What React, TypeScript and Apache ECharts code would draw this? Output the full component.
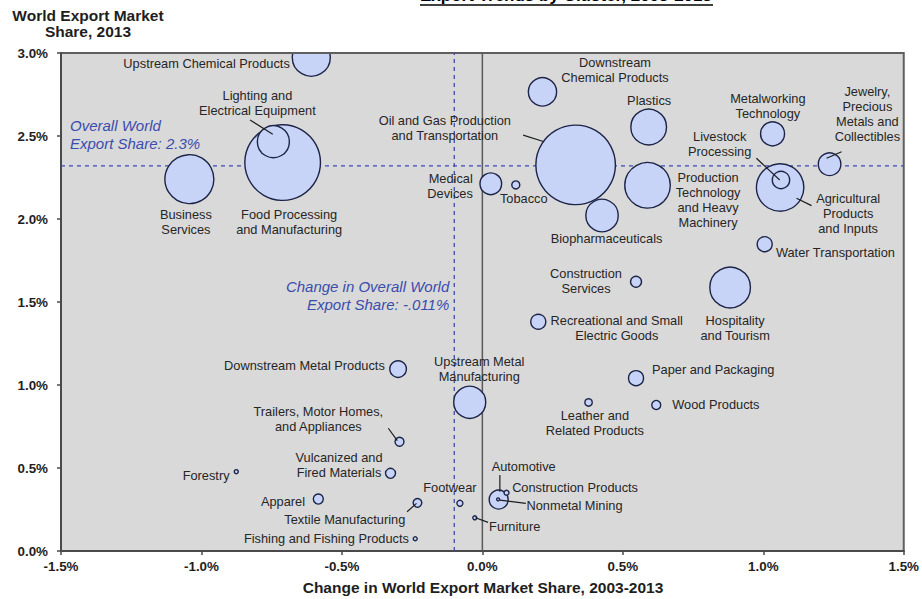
import React, { useEffect, useRef } from "react";
import * as echarts from "echarts";

// ---------- data ----------
const clusters = [
  "Upstream Chemical Products",
  "Lighting and Electrical Equipment",
  "Food Processing and Manufacturing",
  "Business Services",
  "Medical Devices",
  "Oil and Gas Production and Transportation",
  "Downstream Chemical Products",
  "Plastics",
  "Tobacco",
  "Production Technology and Heavy Machinery",
  "Biopharmaceuticals",
  "Metalworking Technology",
  "Livestock Processing",
  "Agricultural Products and Inputs",
  "Jewelry, Precious Metals and Collectibles",
  "Water Transportation",
  "Construction Services",
  "Hospitality and Tourism",
  "Recreational and Small Electric Goods",
  "Paper and Packaging",
  "Wood Products",
  "Leather and Related Products",
  "Upstream Metal Manufacturing",
  "Downstream Metal Products",
  "Trailers, Motor Homes, and Appliances",
  "Vulcanized and Fired Materials",
  "Forestry",
  "Apparel",
  "Textile Manufacturing",
  "Fishing and Fishing Products",
  "Footwear",
  "Furniture",
  "Automotive",
  "Nonmetal Mining",
  "Construction Products",
];

// change in world export market share 2003-2013 (%)
const shareChange = [
  -0.609, -0.744, -0.711, -1.043, 0.03, 0.332, 0.214, 0.592, 0.119, 0.588,
  0.426, 1.033, 1.063, 1.06, 1.236, 1.005, 0.547, 0.882, 0.199, 0.547,
  0.619, 0.378, -0.045, -0.3, -0.295, -0.327, -0.876, -0.584, -0.231, -0.239,
  -0.08, -0.027, 0.058, 0.056, 0.086,
];

// world export market share 2013 (%)
const exportShare = [
  2.975, 2.466, 2.34, 2.24, 2.212, 2.326, 2.766, 2.554, 2.205, 2.203,
  2.021, 2.513, 2.235, 2.19, 2.33, 1.848, 1.622, 1.587, 1.381, 1.041,
  0.88, 0.895, 0.896, 1.096, 0.658, 0.468, 0.478, 0.313, 0.29, 0.074,
  0.287, 0.2, 0.31, 0.311, 0.351,
];

// bubble size (relative export value)
const exportValue = [
  58, 41, 229, 96, 18.7, 253, 32, 51, 2.6, 83,
  42, 23, 12, 90, 20.4, 9, 4.8, 66, 9, 9,
  3.2, 2.2, 41, 11, 3.2, 4, 0.64, 4, 3, 0.64,
  1.44, 0.64, 14.4, 0.36, 1,
];

const overallShare = 2.32;
const overallChange = -0.1;
const xTickValues = [-1.5, -1.0, -0.5, 0.0, 0.5, 1.0, 1.5];
const yTickValues = [0.0, 0.5, 1.0, 1.5, 2.0, 2.5, 3.0];

// ---------- label layout (pixel offsets from bubble centre) ----------
type Lay = { t: string; dx: number; dy: number; a: "left" | "right" | "center"; l?: number[] };
const labelLayout: Lay[] = [
  { t: "Upstream Chemical Products", dx: -21.5, dy: 6, a: "right" },
  { t: "Lighting and\nElectrical Equipment", dx: -16, dy: -39, a: "center", l: [-23.3, -21.7, -0.6, -7.4] },
  { t: "Food Processing\nand Manufacturing", dx: 6.5, dy: 59, a: "center" },
  { t: "Business\nServices", dx: -3.5, dy: 42.5, a: "center" },
  { t: "Medical\nDevices", dx: -18, dy: 2, a: "right" },
  { t: "Oil and Gas Production\nand Transportation", dx: -130.8, dy: -36.6, a: "center", l: [-52.5, -29.8, -31.5, -23.1] },
  { t: "Downstream\nChemical Products", dx: 72.5, dy: -21.5, a: "center" },
  { t: "Plastics", dx: 0.5, dy: -26.3, a: "center" },
  { t: "Tobacco", dx: 8, dy: 13.3, a: "center" },
  { t: "Production\nTechnology\nand Heavy\nMachinery", dx: 60.5, dy: 14.2, a: "center" },
  { t: "Biopharmaceuticals", dx: 4.5, dy: 22.8, a: "center" },
  { t: "Metalworking\nTechnology", dx: -4.7, dy: -28.3, a: "center" },
  { t: "Livestock\nProcessing", dx: -61.3, dy: -36.2, a: "center", l: [-24.6, -21.7, -1.3, 0] },
  { t: "Agricultural\nProducts\nand Inputs", dx: 68, dy: 26, a: "center", l: [16.4, 10.8, 31.4, 18.2] },
  { t: "Jewelry,\nPrecious\nMetals and\nCollectibles", dx: 37.8, dy: -50, a: "center", l: [-3, -5.9, 12, -12.5] },
  { t: "Water Transportation", dx: 11.2, dy: 8.5, a: "left" },
  { t: "Construction\nServices", dx: -50, dy: -0.7, a: "center" },
  { t: "Hospitality\nand Tourism", dx: 5, dy: 40, a: "center" },
  { t: "Recreational and Small\nElectric Goods", dx: 78.5, dy: 6, a: "center" },
  { t: "Paper and Packaging", dx: 16, dy: -9, a: "left" },
  { t: "Wood Products", dx: 16, dy: 0, a: "left" },
  { t: "Leather and\nRelated Products", dx: 6.3, dy: 20.5, a: "center" },
  { t: "Upstream Metal\nManufacturing", dx: 9.5, dy: -33.5, a: "center" },
  { t: "Downstream Metal Products", dx: -13.3, dy: -4, a: "right" },
  { t: "Trailers, Motor Homes,\nand Appliances", dx: -81.2, dy: -22.6, a: "center", l: [-11.2, -13.5, -2.2, -1.1] },
  { t: "Vulcanized and\nFired Materials", dx: -51.5, dy: -8.8, a: "center" },
  { t: "Forestry", dx: -6.7, dy: 4.3, a: "right" },
  { t: "Apparel", dx: -13.3, dy: 2.7, a: "right" },
  { t: "Textile Manufacturing", dx: -72.7, dy: 16.5, a: "center", l: [-10.4, 8.9, -1, 0.5] },
  { t: "Fishing and Fishing Products", dx: -6.3, dy: -0.4, a: "right" },
  { t: "Footwear", dx: -10, dy: -16, a: "center" },
  { t: "Furniture", dx: 14.3, dy: 8.3, a: "left", l: [0.7, 0, 13.3, 4.6] },
  { t: "Automotive", dx: 25, dy: -32.8, a: "center", l: [1.2, -24.5, 1.2, -7.8] },
  { t: "Nonmetal Mining", dx: 28.4, dy: 6.4, a: "left", l: [1.7, 0.7, 27.7, 4] },
  { t: "Construction Products", dx: 5.6, dy: -5, a: "left" },
];

const FONT = '"Liberation Sans", Arial, Helvetica, sans-serif';
const INK = "#1e1e1e";
const BLUE = "#3b4cae";

export default function App() {
  const ref = useRef<HTMLDivElement>(null);

  useEffect(() => {
    if (!ref.current) return;
    const chart = echarts.init(ref.current, null, { renderer: "svg" });

    const order = clusters
      .map((_, i) => i)
      .sort((a, b) => exportValue[b] - exportValue[a]);

    const bubbleData = order.map((i) => ({
      name: clusters[i],
      value: [shareChange[i], exportShare[i], exportValue[i]],
    }));

    const labelData = clusters.map((_, i) => [shareChange[i], exportShare[i], i]);

    const yMin = yTickValues[0];
    const yMax = yTickValues[yTickValues.length - 1];

    const option: any = {
      animation: false,
      backgroundColor: "#ffffff",
      grid: {
        left: 61,
        right: 18,
        top: 53,
        bottom: 48,
        show: true,
        backgroundColor: "#d9d9d9",
        borderColor: "#5f5f5f",
        borderWidth: 2,
      },
      xAxis: {
        type: "value",
        min: xTickValues[0],
        max: xTickValues[xTickValues.length - 1],
        interval: 0.5,
        splitLine: { show: false },
        axisLine: { show: true, onZero: false, lineStyle: { color: "#4a4a4a", width: 2 } },
        axisTick: { show: true, length: 4, lineStyle: { color: "#4a4a4a", width: 1.5 } },
        axisLabel: {
          margin: 9,
          fontFamily: FONT,
          fontWeight: "bold",
          fontSize: 13.4,
          color: INK,
          formatter: (v: number) => v.toFixed(1) + "%",
        },
      },
      yAxis: {
        type: "value",
        min: yMin,
        max: yMax,
        interval: 0.5,
        splitLine: { show: false },
        axisLine: { show: true, onZero: false, lineStyle: { color: "#4a4a4a", width: 2 } },
        axisTick: { show: true, length: 4, lineStyle: { color: "#4a4a4a", width: 1.5 } },
        axisLabel: {
          margin: 13,
          fontFamily: FONT,
          fontWeight: "bold",
          fontSize: 13.4,
          color: INK,
          formatter: (v: number) => v.toFixed(1) + "%",
        },
      },
      series: [
        {
          type: "line",
          z: 1,
          silent: true,
          symbol: "none",
          data: [
            [0, yMin],
            [0, yMax],
          ],
          lineStyle: { color: "#5a5a5a", width: 1.5 },
        },
        {
          type: "line",
          z: 1,
          silent: true,
          symbol: "none",
          data: [
            [overallChange, yMin],
            [overallChange, yMax],
          ],
          lineStyle: { color: BLUE, width: 1.3, type: [4, 4] },
        },
        {
          type: "line",
          z: 1,
          silent: true,
          symbol: "none",
          data: [
            [xTickValues[0], overallShare],
            [xTickValues[xTickValues.length - 1], overallShare],
          ],
          lineStyle: { color: BLUE, width: 1.3, type: [4, 4] },
        },
        {
          type: "scatter",
          z: 2,
          silent: true,
          data: bubbleData,
          symbolSize: (val: number[]) => 5 * Math.sqrt(val[2]),
          itemStyle: { color: "#c7d4f7", borderColor: "#1c2448", borderWidth: 1.4, opacity: 1 },
        },
        {
          type: "custom",
          z: 3,
          silent: true,
          data: labelData,
          renderItem: (params: any, api: any) => {
            const i = api.value(2) as number;
            const p = api.coord([api.value(0), api.value(1)]);
            const L = labelLayout[i];
            const children: any[] = [];
            if (L.l) {
              children.push({
                type: "line",
                shape: { x1: p[0] + L.l[0], y1: p[1] + L.l[1], x2: p[0] + L.l[2], y2: p[1] + L.l[3] },
                style: { stroke: INK, lineWidth: 1.2 },
              });
            }
            children.push({
              type: "text",
              x: p[0] + L.dx,
              y: p[1] + L.dy,
              style: {
                text: L.t,
                font: `12.8px ${FONT}`,
                fill: "#262626",
                align: L.a,
                verticalAlign: "middle",
                lineHeight: 15,
              },
            });
            return { type: "group", children };
          },
        },
      ],
      graphic: [
        // mask above plot area (bubble overflow)
        { type: "rect", z: 100, shape: { x: 270, y: 20, width: 80, height: 32.2 }, style: { fill: "#ffffff" } },
        { type: "line", z: 101, shape: { x1: 268, y1: 53, x2: 352, y2: 53 }, style: { stroke: "#5f5f5f", lineWidth: 2 } },
        // chart title (partly off the page)
        {
          type: "text",
          z: 102,
          x: 566,
          y: 3.5,
          style: {
            text: "Export Trends by Cluster, 2003-2013",
            font: `bold 17px ${FONT}`,
            fill: "#000",
            align: "center",
            verticalAlign: "bottom",
          },
        },
        { type: "line", z: 102, shape: { x1: 420, y1: 5, x2: 713, y2: 5 }, style: { stroke: "#000", lineWidth: 1.6 } },
        // y axis title
        {
          type: "text",
          z: 102,
          x: 88,
          y: 23,
          style: {
            text: "World Export Market\nShare, 2013",
            font: `bold 15.5px ${FONT}`,
            fill: INK,
            align: "center",
            verticalAlign: "middle",
            lineHeight: 16,
          },
        },
        // x axis title
        {
          type: "text",
          z: 102,
          x: 483,
          y: 587,
          style: {
            text: "Change in World Export Market Share, 2003-2013",
            font: `bold 15.5px ${FONT}`,
            fill: INK,
            align: "center",
            verticalAlign: "middle",
          },
        },
        // annotations
        {
          type: "text",
          z: 102,
          x: 70,
          y: 134.3,
          style: {
            text: "Overall World\nExport Share: 2.3%",
            font: `italic 15px ${FONT}`,
            fill: BLUE,
            align: "left",
            verticalAlign: "middle",
            lineHeight: 18.5,
          },
        },
        {
          type: "text",
          z: 102,
          x: 449.3,
          y: 295,
          style: {
            text: "Change in Overall World\nExport Share: -.011%",
            font: `italic 15px ${FONT}`,
            fill: BLUE,
            align: "right",
            verticalAlign: "middle",
            lineHeight: 18,
          },
        },
      ],
    };

    chart.setOption(option);
    return () => chart.dispose();
  }, []);

  return (
    <div
      ref={ref}
      style={{ position: "fixed", left: 0, top: 0, width: 922, height: 599, background: "#fff" }}
    />
  );
}
